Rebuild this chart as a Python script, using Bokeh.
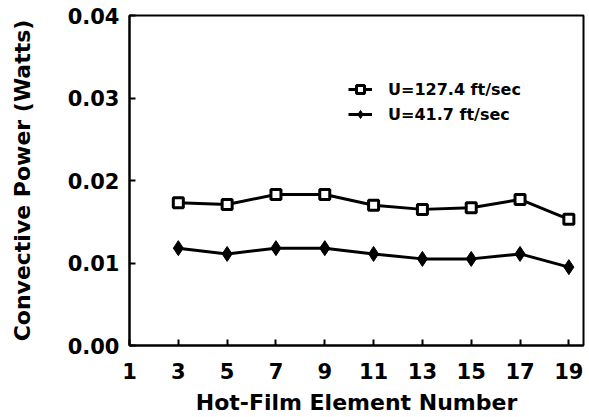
from bokeh.plotting import figure
from bokeh.models import FixedTicker, PrintfTickFormatter, Range1d, Legend, LegendItem
from bokeh.embed import file_html
from bokeh.resources import INLINE

elements = [3, 5, 7, 9, 11, 13, 15, 17, 19]
u_high = [0.0173, 0.0171, 0.0183, 0.0183, 0.0170, 0.0165, 0.0167, 0.0177, 0.0153]
u_low = [0.0118, 0.0111, 0.0118, 0.0118, 0.0111, 0.0105, 0.0105, 0.0111, 0.0095]
label_high = "U=127.4 ft/sec"
label_low = "U=41.7 ft/sec"
x_ticks = [1, 3, 5, 7, 9, 11, 13, 15, 17, 19]
y_ticks = [0.00, 0.01, 0.02, 0.03, 0.04]

FONT = "DejaVu Sans"

p = figure(width=589, height=417, output_backend="svg", toolbar_location=None,
           x_range=Range1d(1, 19.6), y_range=Range1d(0, 0.04),
           min_border_left=129, min_border_right=6, min_border_top=15, min_border_bottom=71)
p.grid.visible = False
p.background_fill_color = "white"
p.border_fill_color = "white"
p.outline_line_color = "black"
p.outline_line_width = 2

for ax in (p.xaxis[0], p.yaxis[0]):
    ax.axis_line_width = 2
    ax.axis_line_color = "black"
    ax.major_tick_line_width = 2
    ax.major_tick_in = 6
    ax.major_tick_out = 0
    ax.minor_tick_line_color = None
    ax.major_label_text_font = FONT
    ax.major_label_text_font_style = "bold"
    ax.major_label_text_font_size = "21px"
    ax.major_label_text_color = "black"
    ax.major_label_text_line_height = 1.0
    ax.axis_label_text_font = FONT
    ax.axis_label_text_font_style = "bold"
    ax.axis_label_text_font_size = "22px"
    ax.axis_label_text_color = "black"
    ax.axis_label_text_line_height = 1.0

p.xaxis.ticker = FixedTicker(ticks=x_ticks)
p.yaxis.ticker = FixedTicker(ticks=y_ticks)
p.yaxis.formatter = PrintfTickFormatter(format="%.2f")
p.xaxis.axis_label = "Hot-Film Element Number"
p.yaxis.axis_label = "Convective Power (Watts)"
p.xaxis.major_label_standoff = 17
p.yaxis.major_label_standoff = 10
p.xaxis.axis_label_standoff = 8
p.yaxis.axis_label_standoff = 30

l1 = p.line(elements, u_high, line_color="black", line_width=3)
s1 = p.scatter(elements, u_high, marker="square", size=10, fill_color="white",
               line_color="black", line_width=3)
l2 = p.line(elements, u_low, line_color="black", line_width=3)
s2 = p.scatter(elements, u_low, marker="diamond", size=15, fill_color="black",
               line_color="black", line_width=1)

legend = Legend(items=[LegendItem(label=label_high, renderers=[l1, s1]),
                       LegendItem(label=label_low, renderers=[l2, s2])],
                location=(219, 221), padding=0, margin=0, spacing=5,
                glyph_width=24, glyph_height=20, label_height=20, label_standoff=16,
                border_line_color=None, background_fill_alpha=0,
                label_text_font=FONT, label_text_font_style="bold",
                label_text_font_size="16px", label_text_color="black")
p.add_layout(legend)

open("out.html", "w").write(file_html(p, INLINE))
